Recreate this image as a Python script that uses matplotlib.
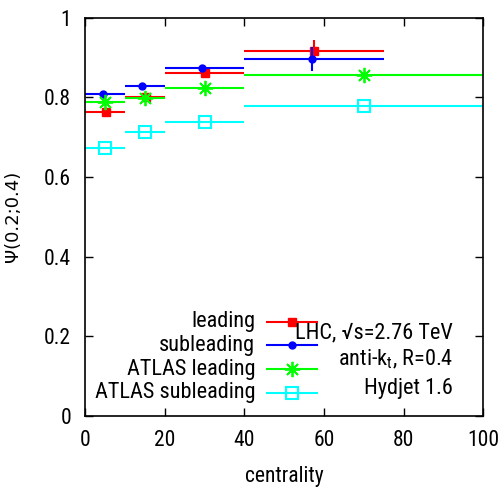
import matplotlib
matplotlib.use("Agg")
import matplotlib.pyplot as plt
from matplotlib.lines import Line2D
import numpy as np

plt.rcParams['font.family'] = ['Roboto Condensed', 'DejaVu Sans']
plt.rcParams['mathtext.fontset'] = 'custom'
plt.rcParams['mathtext.rm'] = 'Roboto Condensed'
plt.rcParams['mathtext.it'] = 'Roboto Condensed'

# centrality bins
lhc_lo = [0, 10, 20, 40]
lhc_hi = [10, 20, 40, 75]
atlas_lo = [0, 10, 20, 40]
atlas_hi = [10, 20, 40, 100]

# LHC leading / subleading (Hydjet)
lead_x = [5.2, 15.2, 30.1, 57.6]
lead_y = [0.764, 0.800, 0.860, 0.916]
lead_err = [0.006, 0.006, 0.006, 0.027]

sub_x = [4.4, 14.4, 29.4, 56.9]
sub_y = [0.809, 0.829, 0.874, 0.896]
sub_err = [0.006, 0.006, 0.006, 0.030]

# ATLAS
atl_x = [5, 15, 30, 70]
atl_lead_y = [0.788, 0.799, 0.823, 0.857]
atl_sub_y = [0.674, 0.713, 0.738, 0.779]

series = [
    ("leading", lead_x, lead_y, lead_err, lhc_lo, lhc_hi, "#ff0000",
     dict(marker='s', markersize=5.5, mfc="#ff0000", mec="#ff0000")),
    ("subleading", sub_x, sub_y, sub_err, lhc_lo, lhc_hi, "#0000ff",
     dict(marker='o', markersize=5, mfc="#0000ff", mec="#0000ff")),
    ("ATLAS leading", atl_x, atl_lead_y, None, atlas_lo, atlas_hi, "#00ff00",
     dict(marker=(8, 2, 0), markersize=11, mec="#00ff00", mew=1.3)),
    ("ATLAS subleading", atl_x, atl_sub_y, None, atlas_lo, atlas_hi, "#00ffff",
     dict(marker='s', markersize=9, mfc='none', mec="#00ffff", mew=1.5)),
]

fig = plt.figure(figsize=(5.02, 4.90), dpi=100)
ax = fig.add_axes([0.1693, 0.151, 0.7937, 0.813])

for name, x, y, yerr, lo, hi, col, mk in series:
    x = np.array(x)
    xerr = [x - np.array(lo), np.array(hi) - x]
    ax.errorbar(x, y, xerr=xerr, yerr=yerr, fmt='none', ecolor=col,
                elinewidth=1.5, capsize=0)
    ax.plot(x, y, linestyle='none', color=col, **mk)

ax.set_xlim(0, 100)
ax.set_ylim(0, 1)
ax.set_xticks(np.arange(0, 101, 20))
ax.set_yticks(np.arange(0, 1.01, 0.2))
ax.set_yticklabels(['0', '0.2', '0.4', '0.6', '0.8', '1'])
ax.tick_params(direction='in', length=6, width=1, top=True, right=True,
               labelsize=15.5, pad=10)
for s in ax.spines.values():
    s.set_linewidth(1.2)

ax.set_xlabel("centrality", fontsize=15.5, labelpad=11)
ax.set_ylabel("Ψ(0.2;0.4)", fontsize=13, family='DejaVu Sans', labelpad=16)

# legend drawn gnuplot style: text right-aligned, sample to the right
rows = [0.236, 0.178, 0.118, 0.058]
for (name, x, y, yerr, lo, hi, col, mk), ry in zip(series, rows):
    ax.text(0.427, ry, name, transform=ax.transAxes, ha='right', va='center',
            fontsize=16)
    ax.add_line(Line2D([0.457, 0.582], [ry, ry], transform=ax.transAxes,
                       color=col, lw=1.5))
    ax.add_line(Line2D([0.519], [ry], transform=ax.transAxes, color=col,
                       linestyle='none', **mk))

ax.text(0.923, 0.208, "LHC, √s=2.76 TeV", transform=ax.transAxes,
        ha='right', va='center', fontsize=16)
ax.text(0.923, 0.141, r"anti-k$_\mathrm{t}$, R=0.4", transform=ax.transAxes,
        ha='right', va='center', fontsize=16)
ax.text(0.923, 0.070, "Hydjet 1.6", transform=ax.transAxes,
        ha='right', va='center', fontsize=16)

fig.savefig("out.png", dpi=100)
